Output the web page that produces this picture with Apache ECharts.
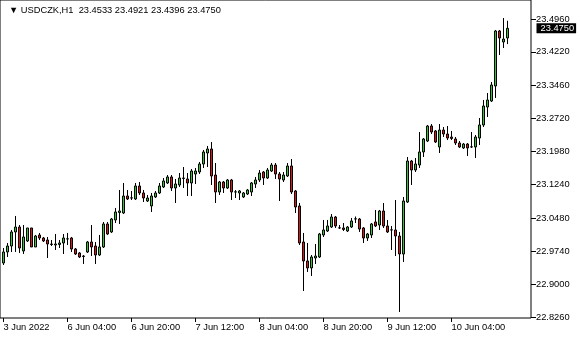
<!DOCTYPE html>
<html><head><meta charset="utf-8">
<script src="https://cdn.jsdelivr.net/npm/echarts@6/dist/echarts.min.js"></script>
<style>html,body{margin:0;padding:0;background:#fff}#c{width:580px;height:340px}</style>
</head><body><div id="c"></div><script>
const symbolName = 'USDCZK,H1';
const firstLabel = '3 Jun 2022';
const startTime = Date.UTC(2022, 5, 3, 12);
const labelEvery = 16;
const futureBars = 5;

const opens = [22.9474,22.9721,22.9856,23.0171,23.0283,22.9744,22.9969,23.0261,22.9834,23.0104,
23.0036,22.9991,22.9901,22.9879,22.9890,22.9924,23.0014,23.0036,22.9789,22.9699,
22.9620,22.9721,22.9946,22.9856,22.9654,22.9834,23.0351,23.0171,23.0441,23.0609,
23.0598,23.0980,23.0935,23.0913,23.1205,23.1048,23.0868,23.0756,23.0958,23.1048,
23.1183,23.1273,23.1408,23.1160,23.1228,23.1374,23.1363,23.1273,23.1475,23.1520,
23.1700,23.1947,23.2037,23.1452,23.1070,23.1295,23.1160,23.1340,23.1070,23.1048,
23.0958,23.1025,23.1070,23.1250,23.1340,23.1520,23.1385,23.1542,23.1677,23.1475,
23.1340,23.1430,23.1655,23.1093,23.0756,22.9946,22.9519,22.9362,22.9586,22.9609,
23.0104,23.0193,23.0283,23.0508,23.0261,23.0261,23.0193,23.0283,23.0463,23.0463,
23.0261,23.0036,23.0104,23.0396,23.0328,23.0643,23.0306,23.0216,23.0216,23.0081,
22.9676,23.0845,23.1767,23.1565,23.1677,23.1970,23.2217,23.2554,23.2442,23.2082,
23.2464,23.2374,23.2307,23.2262,23.2172,23.2060,23.2149,23.2082,23.2082,23.2284,
23.2577,23.2981,23.3116,23.3454,23.4690,23.4443,23.4533];
const closes = [22.9721,22.9856,23.0171,23.0283,22.9811,23.0059,23.0261,22.9834,23.0081,23.0036,
22.9969,22.9901,22.9890,22.9901,22.9924,23.0036,23.0017,22.9789,22.9676,22.9609,
22.9631,22.9946,22.9834,22.9654,22.9834,23.0351,23.0126,23.0463,23.0621,23.0643,
23.0980,23.0913,23.0938,23.1205,23.1048,23.0935,23.0935,23.0980,23.1048,23.1205,
23.1318,23.1408,23.1160,23.1250,23.1385,23.1385,23.1273,23.1542,23.1542,23.1700,
23.1970,23.2037,23.1430,23.1070,23.1295,23.1160,23.1340,23.1070,23.1073,23.1093,
23.1048,23.1115,23.1273,23.1340,23.1497,23.1385,23.1565,23.1677,23.1475,23.1363,
23.1452,23.1655,23.1070,23.0733,22.9924,22.9519,22.9362,22.9609,22.9631,23.0126,
23.0216,23.0306,23.0508,23.0306,23.0264,23.0227,23.0283,23.0418,23.0466,23.0238,
23.0036,23.0126,23.0351,23.0306,23.0643,23.0306,23.0171,23.0219,23.0081,22.9676,
23.0868,23.1767,23.1565,23.1700,23.1970,23.2262,23.2554,23.2419,23.2194,23.2464,
23.2374,23.2284,23.2273,23.2172,23.2082,23.2149,23.2060,23.2085,23.2307,23.2577,
23.3004,23.3139,23.3476,23.4690,23.4533,23.4510,23.4750];
const lows = [22.9429,22.9609,22.9721,22.9721,22.9699,22.9676,22.9946,22.9834,22.9834,22.9991,
22.9946,22.9586,22.9856,22.9766,22.9811,22.9676,22.9879,22.9721,22.9654,22.9586,
22.9452,22.9699,22.9631,22.9452,22.9631,22.9811,23.0104,23.0149,23.0373,23.0351,
23.0576,23.0890,23.0890,23.0890,23.1003,23.0845,23.0845,23.0621,23.0935,23.1025,
23.1160,23.1250,23.1093,23.0823,23.1183,23.1160,23.0980,23.0980,23.1250,23.1475,
23.1610,23.1632,23.1228,23.0823,23.1003,23.1048,23.1138,23.0890,23.0935,23.0890,
23.0935,23.1003,23.0980,23.1160,23.1295,23.1228,23.1363,23.1520,23.1363,23.0868,
23.1295,23.1408,23.1025,23.0598,22.9879,22.8844,22.9272,22.9182,22.9452,22.9586,
23.0059,23.0171,23.0261,23.0261,23.0238,23.0193,23.0171,23.0261,23.0373,23.0171,
22.9924,22.9969,23.0036,23.0283,23.0216,23.0261,23.0149,22.9766,22.9631,22.8372,
22.9497,23.0823,23.1228,23.1520,23.1610,23.1857,23.2194,23.2374,23.2172,23.1947,
23.2307,23.2239,23.2239,23.2127,23.2060,23.2037,23.1880,23.2060,23.1835,23.2127,
23.2532,23.2757,23.3094,23.3184,23.4150,23.4308,23.4396];
const highs = [22.9811,22.9924,23.0216,23.0531,23.0328,23.0328,23.0261,23.0261,23.0104,23.0149,
23.0059,23.0059,22.9991,23.0126,22.9991,23.0126,23.0149,23.0059,22.9811,22.9721,
22.9654,22.9969,23.0328,22.9946,23.0104,23.0396,23.0396,23.0486,23.0711,23.1115,
23.1273,23.1115,23.1093,23.1273,23.1295,23.1115,23.1003,23.1048,23.1093,23.1273,
23.1385,23.1452,23.1452,23.1363,23.1497,23.1632,23.1497,23.1587,23.1610,23.1745,
23.2015,23.2105,23.2194,23.1722,23.1318,23.1318,23.1363,23.1363,23.1115,23.1115,
23.1070,23.1138,23.1295,23.1408,23.1565,23.1542,23.1610,23.1722,23.1722,23.1520,
23.1520,23.1722,23.1812,23.1115,23.0823,23.0149,22.9924,22.9654,22.9901,23.0149,
23.0441,23.0441,23.0576,23.0531,23.0328,23.0373,23.0306,23.0486,23.0519,23.0486,
23.0283,23.0149,23.0373,23.0666,23.0666,23.0823,23.0441,23.0306,23.0890,23.0171,
23.0958,23.1857,23.1790,23.1835,23.2419,23.2284,23.2577,23.2599,23.2464,23.2599,
23.2532,23.2554,23.2442,23.2307,23.2217,23.2172,23.2172,23.2419,23.2352,23.2734,
23.3139,23.3296,23.3543,23.4713,23.4713,23.4982,23.4921];

const yTicks = [22.8260,22.9000,22.9740,23.0480,23.1240,23.1980,23.2720,23.3460,23.4220,23.4960];
const yMin = 22.8237, yMax = 23.5387;

const monthNames = ['Jan','Feb','Mar','Apr','May','Jun','Jul','Aug','Sep','Oct','Nov','Dec'];
const pad2 = n => (n < 10 ? '0' : '') + n;
const categories = [];
for (let t = startTime; categories.length < opens.length + futureBars; t += 3600000) {
  const d = new Date(t), wd = d.getUTCDay();
  if (wd === 0 || wd === 6) continue;
  categories.push(d.getUTCDate() + ' ' + monthNames[d.getUTCMonth()] + ' ' + pad2(d.getUTCHours()) + ':00');
}
const ohlc = opens.map((o, i) => [o, closes[i], lows[i], highs[i]]);
const last = opens.length - 1;
const fmt = v => v.toFixed(4);
const FONT = "'Liberation Sans', Arial, sans-serif";

const chart = echarts.init(document.getElementById('c'), null, {renderer: 'canvas'});
chart.setOption({
  animation: false,
  backgroundColor: '#ffffff',
  title: {
    text: '\u25BC ' + symbolName + '  ' + [opens[last], highs[last], lows[last], closes[last]].map(fmt).join(' '),
    left: 4, top: 1,
    textStyle: {fontFamily: FONT, fontSize: 9.3, fontWeight: 'normal', color: '#000'}
  },
  grid: [
    {left: 0, top: 0, width: 531, height: 318, show: true, borderColor: '#000', borderWidth: 1, backgroundColor: 'transparent'},
    {left: 1.5, top: 0, width: 528, height: 318, show: false}
  ],
  xAxis: [
    {gridIndex: 0, type: 'value', show: false},
    {gridIndex: 1, type: 'category', data: categories, boundaryGap: true,
     axisLine: {show: false},
     axisTick: {show: true, alignWithLabel: true, length: 4, lineStyle: {color: '#000'},
       interval: (i) => i % labelEvery === 0 && i < opens.length},
     axisLabel: {show: true, align: 'left', margin: 5, color: '#000', fontFamily: FONT, fontSize: 9.3,
       interval: (i) => i % labelEvery === 0 && i < opens.length,
       formatter: (v, i) => i === 0 ? firstLabel : v},
     splitLine: {show: false}}
  ],
  yAxis: [
    {gridIndex: 0, type: 'value', show: false},
    {gridIndex: 1, type: 'value', position: 'right', offset: 1.5, min: yMin, max: yMax, scale: true,
     axisLine: {show: false},
     axisTick: {show: true, length: 5, lineStyle: {color: '#000'}, customValues: yTicks},
     axisLabel: {show: true, margin: 5, color: '#000', fontFamily: FONT, fontSize: 9.3,
       customValues: yTicks, formatter: v => fmt(v)},
     splitLine: {show: false}}
  ],
  series: [{
    type: 'candlestick', xAxisIndex: 1, yAxisIndex: 1, data: ohlc, barWidth: 2,
    itemStyle: {color: '#2fc82f', color0: '#e01414', borderColor: '#000', borderColor0: '#000',
      borderColorDoji: '#000', borderWidth: 1},
    markLine: {
      silent: true, symbol: ['none', 'none'], animation: false, precision: 4,
      lineStyle: {color: 'rgba(0,0,0,0)', width: 1, type: 'solid'},
      label: {show: true, position: 'end', distance: 7, formatter: () => fmt(closes[last]),
        backgroundColor: '#000', color: '#fff', padding: [1, 2, 0, 4], opacity: 1,
        fontFamily: FONT, fontSize: 9.3},
      data: [{yAxis: closes[last]}]
    }
  }]
});
</script></body></html>
